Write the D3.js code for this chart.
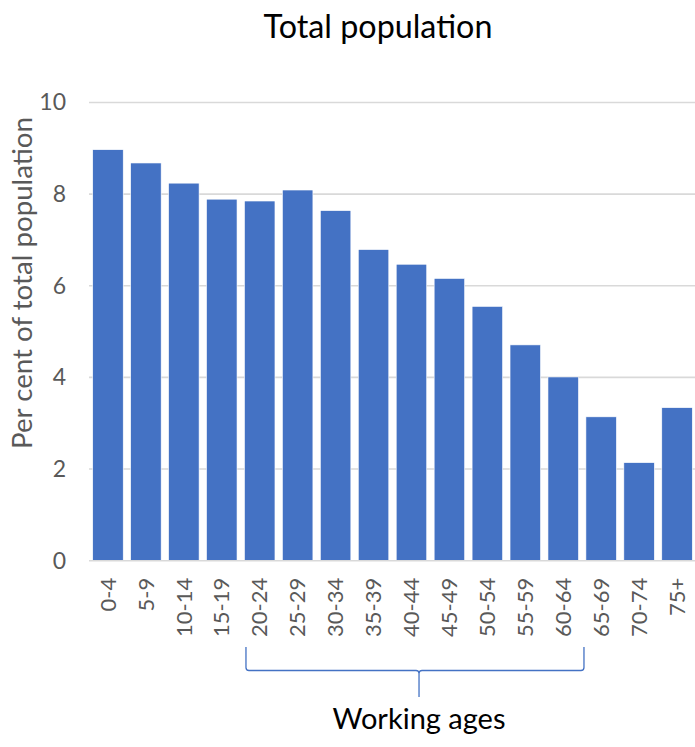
<!DOCTYPE html>
<html>
<head>
<meta charset="utf-8">
<script src="https://cdn.jsdelivr.net/npm/d3@7"></script>
<style>
  html, body { margin: 0; padding: 0; background: #fff; }
  svg { display: block; font-family: Lato, "Open Sans", sans-serif; }
</style>
</head>
<body>
<svg id="chart" width="695" height="747"></svg>
<script>
// Age groups and their share of the total population (%)
const ageGroups = ["0-4","5-9","10-14","15-19","20-24","25-29","30-34","35-39",
                   "40-44","45-49","50-54","55-59","60-64","65-69","70-74","75+"];
const shares = [8.97, 8.68, 8.24, 7.89, 7.85, 8.09, 7.64, 6.79,
                6.47, 6.16, 5.55, 4.71, 4.01, 3.14, 2.14, 3.34];
const yTicks = [0, 2, 4, 6, 8, 10];
const workingRange = ["20-24", "60-64"];

const chartTitle = "Total population";
const yTitle = "Per cent of total population";
const braceLabel = "Working ages";

const svg = d3.select("#chart");
const W = 695;
const plot = { left: 89, right: 696, top: 102.5, bottom: 560.7 };

const x = d3.scaleBand()
  .domain(ageGroups)
  .range([plot.left, plot.right])
  .paddingInner(0.196)
  .paddingOuter(0.098);

const y = d3.scaleLinear()
  .domain([0, 10])
  .range([plot.bottom, plot.top]);

// Fit a text element to a target width by adjusting its font size
function fitWidth(sel, target) {
  const node = sel.node();
  const fs = parseFloat(sel.attr("font-size"));
  const w = node.getComputedTextLength();
  sel.attr("font-size", (fs * target / w).toFixed(2));
}

// Title
svg.append("text")
  .attr("x", 378).attr("y", 38)
  .attr("text-anchor", "middle")
  .attr("font-size", 24)
  .attr("fill", "#000")
  .text(chartTitle)
  .call(fitWidth, 229);

// Horizontal gridlines
svg.append("g")
  .selectAll("line")
  .data(yTicks.filter(d => d > 0))
  .join("line")
  .attr("x1", 89).attr("x2", W)
  .attr("y1", d => y(d)).attr("y2", d => y(d))
  .attr("stroke", "#d9d9d9")
  .attr("stroke-width", 1.6);

// Y axis tick labels
const yAxis = d3.axisLeft(y).tickValues(yTicks).tickSize(0).tickPadding(0);
svg.append("g")
  .attr("transform", `translate(66,0)`)
  .call(yAxis)
  .call(g => g.select(".domain").remove())
  .call(g => g.selectAll("text")
    .attr("font-family", "Lato, 'Open Sans', sans-serif")
    .attr("font-size", 23)
    .attr("fill", "#595959"));

// Y axis title
svg.append("text")
  .attr("transform", `translate(32,${283}) rotate(-90)`)
  .attr("text-anchor", "middle")
  .attr("font-size", 20)
  .attr("fill", "#595959")
  .text(yTitle)
  .call(fitWidth, 332);

// Bars
svg.append("g")
  .selectAll("rect")
  .data(ageGroups.map((g, i) => ({ group: g, value: shares[i] })))
  .join("rect")
  .attr("x", d => x(d.group))
  .attr("width", x.bandwidth())
  .attr("y", d => y(d.value))
  .attr("height", d => y(0) - y(d.value))
  .attr("fill", "#4472c4")
  .attr("stroke", "#fff")
  .attr("stroke-width", 0.6);

// Baseline
svg.append("line")
  .attr("x1", 89).attr("x2", W)
  .attr("y1", y(0)).attr("y2", y(0))
  .attr("stroke", "#d9d9d9")
  .attr("stroke-width", 1.6);

// X axis labels (rotated)
const xAxis = d3.axisBottom(x).tickSize(0).tickPadding(0);
svg.append("g")
  .attr("transform", `translate(0,${y(0)})`)
  .call(xAxis)
  .call(g => g.select(".domain").remove())
  .call(g => g.selectAll("text")
    .attr("font-family", "Lato, 'Open Sans', sans-serif")
    .attr("font-size", 22)
    .attr("fill", "#595959")
    .attr("text-anchor", "end")
    .attr("dy", "0.35em")
    .attr("x", -17)
    .attr("y", 0)
    .attr("transform", "rotate(-90)"));

// Brace under the working-age groups
const bx0 = x(workingRange[0]) + 1.5;
const bx1 = x(workingRange[1]) + x.bandwidth() + 5.5;
const bm = bx0 + (bx1 - bx0) * 0.512;
const bTop = 647, bMid = 670.5, bTip = 697, r = 3;
const brace = d3.path();
brace.moveTo(bx0, bTop);
brace.lineTo(bx0, bMid - r);
brace.quadraticCurveTo(bx0, bMid, bx0 + r, bMid);
brace.lineTo(bm - r, bMid);
brace.quadraticCurveTo(bm, bMid, bm, bMid + r);
brace.lineTo(bm, bTip);
brace.moveTo(bm, bMid + r);
brace.quadraticCurveTo(bm, bMid, bm + r, bMid);
brace.lineTo(bx1 - r, bMid);
brace.quadraticCurveTo(bx1, bMid, bx1, bMid - r);
brace.lineTo(bx1, bTop);
svg.append("path")
  .attr("d", brace.toString())
  .attr("fill", "none")
  .attr("stroke", "#4472c4")
  .attr("stroke-width", 1.3);

svg.append("text")
  .attr("x", bm).attr("y", 729)
  .attr("text-anchor", "middle")
  .attr("font-size", 24)
  .attr("fill", "#000")
  .text(braceLabel)
  .call(fitWidth, 173);
</script>
</body>
</html>
